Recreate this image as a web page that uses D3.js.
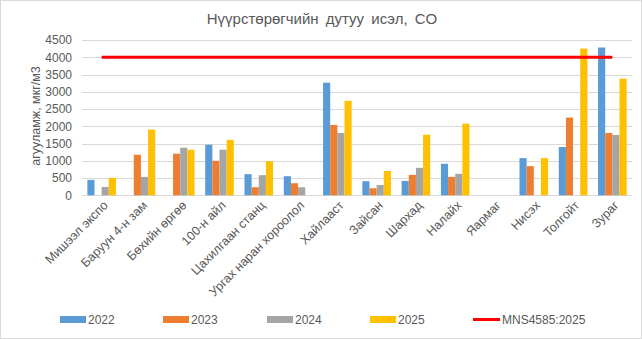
<!DOCTYPE html>
<html><head><meta charset="utf-8">
<script src="https://cdn.jsdelivr.net/npm/d3@7"></script>
<style>
html,body{margin:0;padding:0;background:#fff;}
svg{display:block;font-family:"Liberation Sans",Arial,sans-serif;}
</style></head>
<body><svg id="c" width="642" height="339"></svg>
<script>
const categories = ["Мишээл экспо","Баруун 4-н зам","Бөхийн өргөө","100-н айл","Цахилгаан станц","Ургах наран хороолол","Хайлааст","Зайсан","Шархад","Налайх","Яармаг","Нисэх","Толгойт","Зураг"];
const series = ["2022","2023","2024","2025"];
const v2022 = [447, null, null, 1466, 612, 553, 3262, 408, 417, 913, null, 1078, 1398, 4282];
const v2023 = [null, 1175, 1204, 1000, 233, 350, 2039, 204, 592, 534, null, 845, 2252, 1806];
const v2024 = [243, 534, 1379, 1320, 583, 233, 1806, 296, 796, 621, null, null, null, 1748];
const v2025 = [505, 1903, 1320, 1607, 990, null, 2738, 704, 1757, 2078, null, 1078, 4252, 3379];
const standard = [4000,4000,4000,4000,4000,4000,4000,4000,4000,4000,4000,4000,4000,4000];
const standardLabel = "MNS4585:2025";
const yTicks = [0,500,1000,1500,2000,2500,3000,3500,4000,4500];
const title = "Нүүрстөрөгчийн дутуу исэл, CO";
const yTitle = "агууламж, мкг/м3";
const colors = ["#5b9bd5","#ed7d31","#a5a5a5","#ffc000"];
const lineColor = "#ff0000";

const values = [v2022, v2023, v2024, v2025];
const svg = d3.select("#c");
const W = 642, H = 339;
const m = {l: 82, r: 632, t: 40, b: 195.3};

svg.append("rect").attr("x",0.5).attr("y",0.5).attr("width",W-1).attr("height",H-1)
  .attr("fill","#fff").attr("stroke","#d9d9d9");

const x = d3.scaleBand().domain(categories).range([m.l, m.r])
  .paddingInner(1.5/5.5).paddingOuter(0.75/5.5);
const xs = d3.scaleBand().domain(series).range([0, x.bandwidth()]);
const y = d3.scaleLinear().domain([0,4500]).range([m.b, m.t]);

// gridlines
svg.append("g").selectAll("line").data(yTicks).join("line")
  .attr("x1", m.l).attr("x2", m.r)
  .attr("y1", d=>Math.round(y(d))+0.5).attr("y2", d=>Math.round(y(d))+0.5)
  .attr("stroke","#d9d9d9").attr("stroke-width",1);

// y axis labels
const yAxis = d3.axisLeft(y).tickValues(yTicks).tickFormat(d3.format("d")).tickSize(0).tickPadding(0);
const ga = svg.append("g").attr("transform",`translate(${m.l-10},0)`).call(yAxis);
ga.select(".domain").remove();
ga.selectAll("text").attr("fill","#595959").style("font-size","12px")
  .style("font-family","'Liberation Sans',Arial,sans-serif");

// bars
series.forEach((s,si)=>{
  svg.append("g").selectAll("rect").data(categories.map((c,i)=>({c, v: values[si][i]})).filter(d=>d.v!=null))
    .join("rect")
    .attr("x", d=>x(d.c)+xs(s)).attr("width", xs.bandwidth())
    .attr("y", d=>y(d.v)).attr("height", d=>y(0)-y(d.v))
    .attr("fill", colors[si]);
});

// standard line
const line = d3.line().x((d,i)=>x(categories[i])+x.bandwidth()/2).y(d=>y(d));
svg.append("path").datum(standard).attr("d", line)
  .attr("fill","none").attr("stroke",lineColor).attr("stroke-width",3);

// x labels
svg.append("g").selectAll("text").data(categories).join("text")
  .attr("transform", d=>`translate(${x(d)+x.bandwidth()/2+4},${203}) rotate(-45)`)
  .attr("text-anchor","end").attr("dy","0.35em")
  .attr("fill","#595959").style("font-size","12.5px").text(d=>d);

// title
svg.append("text").attr("x", 322).attr("y", 24).attr("text-anchor","middle")
  .attr("fill","#595959").style("font-size","15px").style("word-spacing","3px").text(title);

// y title
svg.append("text").attr("transform","translate(40,116) rotate(-90)")
  .attr("text-anchor","middle").attr("fill","#595959").style("font-size","12.5px").text(yTitle);

// legend
const legX = [60,163,267,370];
series.forEach((s,i)=>{
  svg.append("rect").attr("x",legX[i]).attr("y",316).attr("width",26).attr("height",7).attr("fill",colors[i]);
  svg.append("text").attr("x",legX[i]+28).attr("y",319.5).attr("dy","0.35em")
    .attr("fill","#595959").style("font-size","12px").text(s);
});
svg.append("line").attr("x1",473).attr("x2",500).attr("y1",319.5).attr("y2",319.5)
  .attr("stroke",lineColor).attr("stroke-width",3);
svg.append("text").attr("x",502).attr("y",319.5).attr("dy","0.35em")
  .attr("fill","#595959").style("font-size","12px").text(standardLabel);
</script></body></html>
